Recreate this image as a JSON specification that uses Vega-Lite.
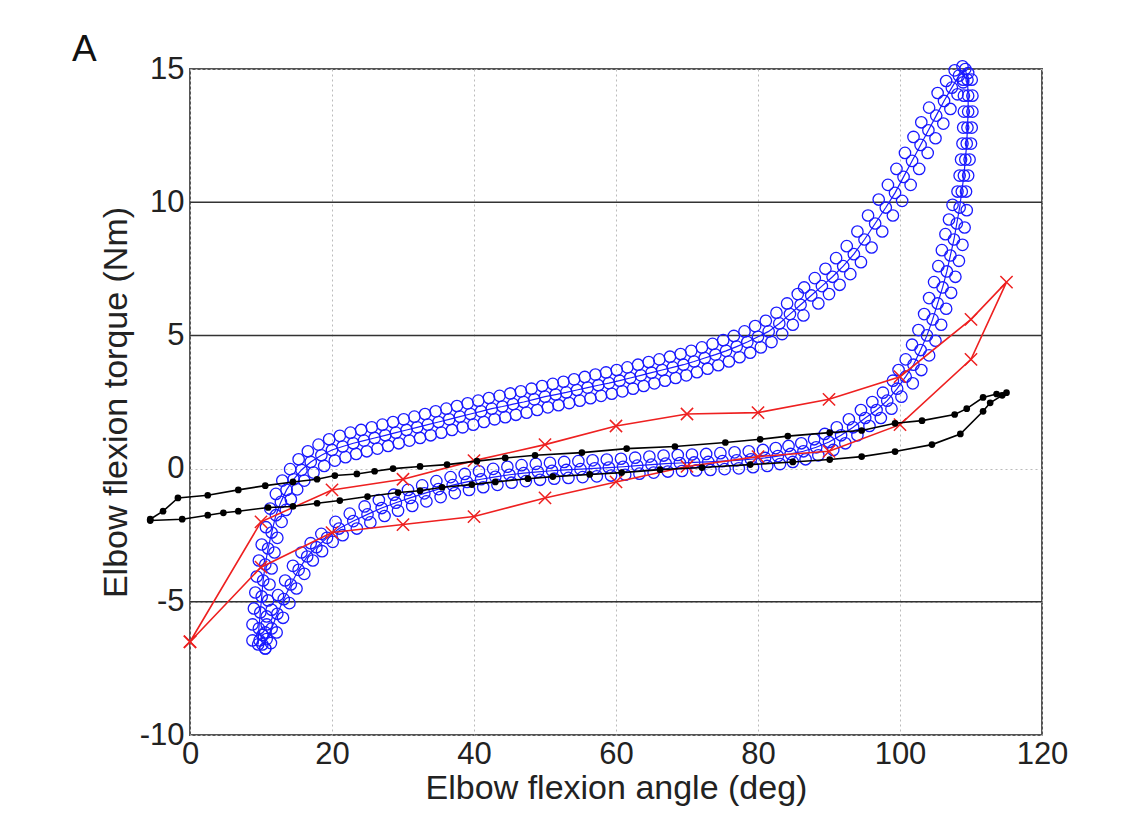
{
"$schema":"https://vega.github.io/schema/vega-lite/v6.json",
"width":852,"height":666,
"autosize":{"type":"none"},
"padding":{"left":190,"top":69,"right":96,"bottom":98},
"background":"white",
"title":{"text":"A","anchor":"start","frame":"group","dx":-118,"dy":53,"offset":0,"baseline":"bottom","fontSize":37,"font":"Liberation Sans","fontWeight":"normal","color":"#111"},
"datasets":{
"hl":[{"x":0,"x2":120,"y":-5},{"x":0,"x2":120,"y":5},{"x":0,"x2":120,"y":10}],
"blue":[
{"c":"A","i":1,"x":8.8,"y":-6.45},{"c":"A","i":2,"x":8.8,"y":-5.85},{"c":"A","i":3,"x":9.0,"y":-5.25},{"c":"A","i":4,"x":9.2,"y":-4.65},{"c":"A","i":5,"x":9.4,"y":-4.05},{"c":"A","i":6,"x":9.7,"y":-3.45},{"c":"A","i":7,"x":10.1,"y":-2.85},{"c":"A","i":8,"x":10.7,"y":-2.2},{"c":"A","i":9,"x":11.3,"y":-1.5},{"c":"A","i":10,"x":12.1,"y":-0.95},
{"c":"A","i":11,"x":13.0,"y":-0.45},{"c":"A","i":12,"x":14.1,"y":-0.02},{"c":"A","i":13,"x":15.3,"y":0.35},{"c":"A","i":14,"x":16.6,"y":0.65},{"c":"A","i":15,"x":18.1,"y":0.9},{"c":"A","i":16,"x":19.6,"y":1.1},{"c":"A","i":17,"x":21.1,"y":1.23},{"c":"A","i":18,"x":22.6,"y":1.35},{"c":"A","i":19,"x":24.1,"y":1.45},{"c":"A","i":20,"x":25.6,"y":1.55},
{"c":"A","i":21,"x":27.1,"y":1.65},{"c":"A","i":22,"x":28.6,"y":1.75},{"c":"A","i":23,"x":30.1,"y":1.85},{"c":"A","i":24,"x":31.6,"y":1.95},{"c":"A","i":25,"x":33.1,"y":2.05},{"c":"A","i":26,"x":34.6,"y":2.15},{"c":"A","i":27,"x":36.1,"y":2.25},{"c":"A","i":28,"x":37.6,"y":2.35},{"c":"A","i":29,"x":39.1,"y":2.45},{"c":"A","i":30,"x":40.6,"y":2.55},
{"c":"A","i":31,"x":42.1,"y":2.65},{"c":"A","i":32,"x":43.6,"y":2.73},{"c":"A","i":33,"x":45.1,"y":2.82},{"c":"A","i":34,"x":46.6,"y":2.9},{"c":"A","i":35,"x":48.1,"y":3.0},{"c":"A","i":36,"x":49.6,"y":3.1},{"c":"A","i":37,"x":51.1,"y":3.18},{"c":"A","i":38,"x":52.6,"y":3.26},{"c":"A","i":39,"x":54.1,"y":3.35},{"c":"A","i":40,"x":55.6,"y":3.44},
{"c":"A","i":41,"x":57.1,"y":3.53},{"c":"A","i":42,"x":58.6,"y":3.61},{"c":"A","i":43,"x":60.1,"y":3.7},{"c":"A","i":44,"x":61.6,"y":3.8},{"c":"A","i":45,"x":63.1,"y":3.9},{"c":"A","i":46,"x":64.6,"y":4.0},{"c":"A","i":47,"x":66.1,"y":4.1},{"c":"A","i":48,"x":67.6,"y":4.2},{"c":"A","i":49,"x":69.1,"y":4.3},{"c":"A","i":50,"x":70.6,"y":4.42},
{"c":"A","i":51,"x":72.1,"y":4.55},{"c":"A","i":52,"x":73.6,"y":4.68},{"c":"A","i":53,"x":75.1,"y":4.82},{"c":"A","i":54,"x":76.6,"y":4.98},{"c":"A","i":55,"x":78.1,"y":5.15},{"c":"A","i":56,"x":79.6,"y":5.35},{"c":"A","i":57,"x":81.1,"y":5.55},{"c":"A","i":58,"x":82.6,"y":5.85},{"c":"A","i":59,"x":84.1,"y":6.2},{"c":"A","i":60,"x":85.6,"y":6.55},
{"c":"A","i":61,"x":86.5,"y":6.8},{"c":"A","i":62,"x":88.0,"y":7.15},{"c":"A","i":63,"x":89.5,"y":7.5},{"c":"A","i":64,"x":91.0,"y":7.9},{"c":"A","i":65,"x":92.5,"y":8.35},{"c":"A","i":66,"x":94.0,"y":8.9},{"c":"A","i":67,"x":95.5,"y":9.5},{"c":"A","i":68,"x":97.0,"y":10.1},{"c":"A","i":69,"x":98.3,"y":10.65},{"c":"A","i":70,"x":99.5,"y":11.25},
{"c":"A","i":71,"x":100.7,"y":11.85},{"c":"A","i":72,"x":101.9,"y":12.45},{"c":"A","i":73,"x":103.0,"y":13.0},{"c":"A","i":74,"x":104.1,"y":13.55},{"c":"A","i":75,"x":105.3,"y":14.1},{"c":"A","i":76,"x":106.5,"y":14.55},{"c":"A","i":77,"x":107.7,"y":14.95},{"c":"A","i":78,"x":108.8,"y":15.1},
{"c":"A","i":79,"x":110.1,"y":14.6},{"c":"A","i":80,"x":110.2,"y":14.0},{"c":"A","i":81,"x":110.2,"y":13.4},{"c":"A","i":82,"x":110.1,"y":12.8},{"c":"A","i":83,"x":110.0,"y":12.2},{"c":"A","i":84,"x":109.8,"y":11.6},{"c":"A","i":85,"x":109.6,"y":11.0},{"c":"A","i":86,"x":109.3,"y":10.4},{"c":"A","i":87,"x":109.4,"y":9.7},{"c":"A","i":88,"x":109.1,"y":9.05},
{"c":"A","i":89,"x":108.8,"y":8.4},{"c":"A","i":90,"x":108.3,"y":7.8},{"c":"A","i":91,"x":107.8,"y":7.2},{"c":"A","i":92,"x":107.2,"y":6.6},{"c":"A","i":93,"x":106.5,"y":6.0},{"c":"A","i":94,"x":105.8,"y":5.4},{"c":"A","i":95,"x":105.0,"y":4.8},{"c":"A","i":96,"x":104.1,"y":4.25},{"c":"A","i":97,"x":103.0,"y":3.7},{"c":"A","i":98,"x":101.8,"y":3.2},
{"c":"A","i":99,"x":100.2,"y":2.7},{"c":"A","i":100,"x":98.8,"y":2.25},{"c":"A","i":101,"x":97.3,"y":1.9},{"c":"A","i":102,"x":95.7,"y":1.6},{"c":"A","i":103,"x":94.0,"y":1.25},{"c":"A","i":104,"x":92.3,"y":0.95},{"c":"A","i":105,"x":90.6,"y":0.7},{"c":"A","i":106,"x":88.5,"y":0.5},{"c":"A","i":107,"x":86.7,"y":0.35},{"c":"A","i":108,"x":84.9,"y":0.25},
{"c":"A","i":109,"x":83.1,"y":0.17},{"c":"A","i":110,"x":81.3,"y":0.1},{"c":"A","i":111,"x":79.3,"y":0.05},{"c":"A","i":112,"x":77.3,"y":0.01},{"c":"A","i":113,"x":75.3,"y":-0.02},{"c":"A","i":114,"x":73.3,"y":-0.05},{"c":"A","i":115,"x":71.3,"y":-0.07},{"c":"A","i":116,"x":69.3,"y":-0.09},{"c":"A","i":117,"x":67.3,"y":-0.11},{"c":"A","i":118,"x":65.3,"y":-0.15},
{"c":"A","i":119,"x":63.3,"y":-0.19},{"c":"A","i":120,"x":61.3,"y":-0.23},{"c":"A","i":121,"x":59.3,"y":-0.26},{"c":"A","i":122,"x":57.3,"y":-0.29},{"c":"A","i":123,"x":55.3,"y":-0.32},{"c":"A","i":124,"x":53.3,"y":-0.35},{"c":"A","i":125,"x":51.3,"y":-0.38},{"c":"A","i":126,"x":49.3,"y":-0.42},{"c":"A","i":127,"x":47.3,"y":-0.47},{"c":"A","i":128,"x":45.3,"y":-0.53},
{"c":"A","i":129,"x":43.3,"y":-0.61},{"c":"A","i":130,"x":41.3,"y":-0.7},{"c":"A","i":131,"x":39.3,"y":-0.8},{"c":"A","i":132,"x":37.3,"y":-0.92},{"c":"A","i":133,"x":35.3,"y":-1.07},{"c":"A","i":134,"x":33.3,"y":-1.23},{"c":"A","i":135,"x":31.3,"y":-1.4},{"c":"A","i":136,"x":29.3,"y":-1.58},{"c":"A","i":137,"x":27.4,"y":-1.78},{"c":"A","i":138,"x":25.4,"y":-2.02},
{"c":"A","i":139,"x":23.5,"y":-2.25},{"c":"A","i":140,"x":21.5,"y":-2.5},{"c":"A","i":141,"x":20.1,"y":-2.75},{"c":"A","i":142,"x":18.6,"y":-3.1},{"c":"A","i":143,"x":17.3,"y":-3.45},{"c":"A","i":144,"x":16.1,"y":-3.95},{"c":"A","i":145,"x":15.0,"y":-4.5},{"c":"A","i":146,"x":14.0,"y":-5.05},{"c":"A","i":147,"x":13.1,"y":-5.6},{"c":"A","i":148,"x":12.2,"y":-6.15},
{"c":"A","i":149,"x":11.4,"y":-6.55},{"c":"A","i":150,"x":10.6,"y":-6.75},
{"c":"B","i":1,"x":10.6,"y":-6.75},{"c":"B","i":2,"x":10.6,"y":-6.15},{"c":"B","i":3,"x":10.8,"y":-5.55},{"c":"B","i":4,"x":11.0,"y":-4.95},{"c":"B","i":5,"x":11.2,"y":-4.35},{"c":"B","i":6,"x":11.5,"y":-3.75},{"c":"B","i":7,"x":11.9,"y":-3.15},{"c":"B","i":8,"x":12.3,"y":-2.6},{"c":"B","i":9,"x":12.9,"y":-2.0},{"c":"B","i":10,"x":13.5,"y":-1.55},
{"c":"B","i":11,"x":14.2,"y":-1.15},{"c":"B","i":12,"x":15.1,"y":-0.78},{"c":"B","i":13,"x":16.1,"y":-0.45},{"c":"B","i":14,"x":17.4,"y":-0.15},{"c":"B","i":15,"x":18.9,"y":0.1},{"c":"B","i":16,"x":20.4,"y":0.3},{"c":"B","i":17,"x":21.9,"y":0.43},{"c":"B","i":18,"x":23.4,"y":0.55},{"c":"B","i":19,"x":24.9,"y":0.65},{"c":"B","i":20,"x":26.4,"y":0.75},
{"c":"B","i":21,"x":27.9,"y":0.85},{"c":"B","i":22,"x":29.4,"y":0.95},{"c":"B","i":23,"x":30.9,"y":1.05},{"c":"B","i":24,"x":32.4,"y":1.15},{"c":"B","i":25,"x":33.9,"y":1.25},{"c":"B","i":26,"x":35.4,"y":1.35},{"c":"B","i":27,"x":36.9,"y":1.45},{"c":"B","i":28,"x":38.4,"y":1.55},{"c":"B","i":29,"x":39.9,"y":1.65},{"c":"B","i":30,"x":41.4,"y":1.75},
{"c":"B","i":31,"x":42.9,"y":1.85},{"c":"B","i":32,"x":44.4,"y":1.93},{"c":"B","i":33,"x":45.9,"y":2.02},{"c":"B","i":34,"x":47.4,"y":2.1},{"c":"B","i":35,"x":48.9,"y":2.2},{"c":"B","i":36,"x":50.4,"y":2.3},{"c":"B","i":37,"x":51.9,"y":2.38},{"c":"B","i":38,"x":53.4,"y":2.46},{"c":"B","i":39,"x":54.9,"y":2.55},{"c":"B","i":40,"x":56.4,"y":2.64},
{"c":"B","i":41,"x":57.9,"y":2.73},{"c":"B","i":42,"x":59.4,"y":2.81},{"c":"B","i":43,"x":60.9,"y":2.9},{"c":"B","i":44,"x":62.4,"y":3.0},{"c":"B","i":45,"x":63.9,"y":3.1},{"c":"B","i":46,"x":65.4,"y":3.2},{"c":"B","i":47,"x":66.9,"y":3.3},{"c":"B","i":48,"x":68.4,"y":3.4},{"c":"B","i":49,"x":69.9,"y":3.5},{"c":"B","i":50,"x":71.4,"y":3.62},
{"c":"B","i":51,"x":72.9,"y":3.75},{"c":"B","i":52,"x":74.4,"y":3.88},{"c":"B","i":53,"x":75.9,"y":4.02},{"c":"B","i":54,"x":77.4,"y":4.18},{"c":"B","i":55,"x":78.9,"y":4.35},{"c":"B","i":56,"x":80.4,"y":4.55},{"c":"B","i":57,"x":81.9,"y":4.75},{"c":"B","i":58,"x":83.4,"y":5.05},{"c":"B","i":59,"x":84.9,"y":5.4},{"c":"B","i":60,"x":86.4,"y":5.75},
{"c":"B","i":61,"x":88.5,"y":6.2},{"c":"B","i":62,"x":90.0,"y":6.55},{"c":"B","i":63,"x":91.5,"y":6.9},{"c":"B","i":64,"x":93.0,"y":7.3},{"c":"B","i":65,"x":94.5,"y":7.75},{"c":"B","i":66,"x":96.0,"y":8.3},{"c":"B","i":67,"x":97.5,"y":8.9},{"c":"B","i":68,"x":99.0,"y":9.5},{"c":"B","i":69,"x":100.3,"y":10.05},{"c":"B","i":70,"x":101.5,"y":10.65},
{"c":"B","i":71,"x":102.7,"y":11.25},{"c":"B","i":72,"x":103.9,"y":11.85},{"c":"B","i":73,"x":105.0,"y":12.4},{"c":"B","i":74,"x":106.1,"y":12.95},{"c":"B","i":75,"x":107.1,"y":13.5},{"c":"B","i":76,"x":108.1,"y":14.05},{"c":"B","i":77,"x":108.9,"y":14.5},{"c":"B","i":78,"x":109.6,"y":14.85},
{"c":"B","i":79,"x":108.9,"y":14.6},{"c":"B","i":80,"x":109.0,"y":14.0},{"c":"B","i":81,"x":109.0,"y":13.4},{"c":"B","i":82,"x":108.9,"y":12.8},{"c":"B","i":83,"x":108.8,"y":12.2},{"c":"B","i":84,"x":108.6,"y":11.6},{"c":"B","i":85,"x":108.4,"y":11.0},{"c":"B","i":86,"x":108.1,"y":10.4},{"c":"B","i":87,"x":107.4,"y":9.9},{"c":"B","i":88,"x":106.9,"y":9.35},
{"c":"B","i":89,"x":106.4,"y":8.8},{"c":"B","i":90,"x":105.9,"y":8.2},{"c":"B","i":91,"x":105.4,"y":7.6},{"c":"B","i":92,"x":104.8,"y":7.0},{"c":"B","i":93,"x":104.1,"y":6.4},{"c":"B","i":94,"x":103.4,"y":5.8},{"c":"B","i":95,"x":102.6,"y":5.2},{"c":"B","i":96,"x":101.7,"y":4.65},{"c":"B","i":97,"x":100.8,"y":4.1},{"c":"B","i":98,"x":99.8,"y":3.7},
{"c":"B","i":99,"x":99.0,"y":3.3},{"c":"B","i":100,"x":97.6,"y":2.85},{"c":"B","i":101,"x":96.1,"y":2.5},{"c":"B","i":102,"x":94.5,"y":2.2},{"c":"B","i":103,"x":92.8,"y":1.85},{"c":"B","i":104,"x":91.1,"y":1.55},{"c":"B","i":105,"x":89.4,"y":1.3},{"c":"B","i":106,"x":87.9,"y":1.1},{"c":"B","i":107,"x":86.1,"y":0.95},{"c":"B","i":108,"x":84.3,"y":0.85},
{"c":"B","i":109,"x":82.5,"y":0.77},{"c":"B","i":110,"x":80.7,"y":0.7},{"c":"B","i":111,"x":78.7,"y":0.65},{"c":"B","i":112,"x":76.7,"y":0.61},{"c":"B","i":113,"x":74.7,"y":0.58},{"c":"B","i":114,"x":72.7,"y":0.55},{"c":"B","i":115,"x":70.7,"y":0.53},{"c":"B","i":116,"x":68.7,"y":0.51},{"c":"B","i":117,"x":66.7,"y":0.49},{"c":"B","i":118,"x":64.7,"y":0.45},
{"c":"B","i":119,"x":62.7,"y":0.41},{"c":"B","i":120,"x":60.7,"y":0.37},{"c":"B","i":121,"x":58.7,"y":0.34},{"c":"B","i":122,"x":56.7,"y":0.31},{"c":"B","i":123,"x":54.7,"y":0.28},{"c":"B","i":124,"x":52.7,"y":0.25},{"c":"B","i":125,"x":50.7,"y":0.22},{"c":"B","i":126,"x":48.7,"y":0.18},{"c":"B","i":127,"x":46.7,"y":0.13},{"c":"B","i":128,"x":44.7,"y":0.07},
{"c":"B","i":129,"x":42.7,"y":-0.01},{"c":"B","i":130,"x":40.7,"y":-0.1},{"c":"B","i":131,"x":38.7,"y":-0.2},{"c":"B","i":132,"x":36.7,"y":-0.32},{"c":"B","i":133,"x":34.7,"y":-0.47},{"c":"B","i":134,"x":32.7,"y":-0.63},{"c":"B","i":135,"x":30.7,"y":-0.8},{"c":"B","i":136,"x":28.7,"y":-0.98},{"c":"B","i":137,"x":26.6,"y":-1.18},{"c":"B","i":138,"x":24.6,"y":-1.42},
{"c":"B","i":139,"x":22.5,"y":-1.69},{"c":"B","i":140,"x":20.5,"y":-2.0},{"c":"B","i":141,"x":18.5,"y":-2.45},{"c":"B","i":142,"x":17.0,"y":-2.8},{"c":"B","i":143,"x":15.7,"y":-3.15},{"c":"B","i":144,"x":14.5,"y":-3.65},{"c":"B","i":145,"x":13.4,"y":-4.2},{"c":"B","i":146,"x":12.4,"y":-4.75},{"c":"B","i":147,"x":11.5,"y":-5.3},{"c":"B","i":148,"x":10.8,"y":-5.85},
{"c":"B","i":149,"x":10.2,"y":-6.25},{"c":"B","i":150,"x":9.8,"y":-6.45},
{"c":"C","i":1,"x":9.6,"y":-6.6},{"c":"C","i":2,"x":9.7,"y":-6.0},{"c":"C","i":3,"x":9.9,"y":-5.4},{"c":"C","i":4,"x":10.1,"y":-4.8},{"c":"C","i":5,"x":10.3,"y":-4.2},{"c":"C","i":6,"x":10.6,"y":-3.6},{"c":"C","i":7,"x":11.0,"y":-3.0},{"c":"C","i":8,"x":11.5,"y":-2.4},{"c":"C","i":9,"x":12.1,"y":-1.75},{"c":"C","i":10,"x":12.8,"y":-1.25},
{"c":"C","i":11,"x":13.6,"y":-0.8},{"c":"C","i":12,"x":14.6,"y":-0.4},{"c":"C","i":13,"x":15.7,"y":-0.05},{"c":"C","i":14,"x":17.0,"y":0.25},{"c":"C","i":15,"x":18.5,"y":0.5},{"c":"C","i":16,"x":20.0,"y":0.7},{"c":"C","i":17,"x":21.5,"y":0.83},{"c":"C","i":18,"x":23.0,"y":0.95},{"c":"C","i":19,"x":24.5,"y":1.05},{"c":"C","i":20,"x":26.0,"y":1.15},
{"c":"C","i":21,"x":27.5,"y":1.25},{"c":"C","i":22,"x":29.0,"y":1.35},{"c":"C","i":23,"x":30.5,"y":1.45},{"c":"C","i":24,"x":32.0,"y":1.55},{"c":"C","i":25,"x":33.5,"y":1.65},{"c":"C","i":26,"x":35.0,"y":1.75},{"c":"C","i":27,"x":36.5,"y":1.85},{"c":"C","i":28,"x":38.0,"y":1.95},{"c":"C","i":29,"x":39.5,"y":2.05},{"c":"C","i":30,"x":41.0,"y":2.15},
{"c":"C","i":31,"x":42.5,"y":2.25},{"c":"C","i":32,"x":44.0,"y":2.33},{"c":"C","i":33,"x":45.5,"y":2.42},{"c":"C","i":34,"x":47.0,"y":2.5},{"c":"C","i":35,"x":48.5,"y":2.6},{"c":"C","i":36,"x":50.0,"y":2.7},{"c":"C","i":37,"x":51.5,"y":2.78},{"c":"C","i":38,"x":53.0,"y":2.86},{"c":"C","i":39,"x":54.5,"y":2.95},{"c":"C","i":40,"x":56.0,"y":3.04},
{"c":"C","i":41,"x":57.5,"y":3.13},{"c":"C","i":42,"x":59.0,"y":3.21},{"c":"C","i":43,"x":60.5,"y":3.3},{"c":"C","i":44,"x":62.0,"y":3.4},{"c":"C","i":45,"x":63.5,"y":3.5},{"c":"C","i":46,"x":65.0,"y":3.6},{"c":"C","i":47,"x":66.5,"y":3.7},{"c":"C","i":48,"x":68.0,"y":3.8},{"c":"C","i":49,"x":69.5,"y":3.9},{"c":"C","i":50,"x":71.0,"y":4.02},
{"c":"C","i":51,"x":72.5,"y":4.15},{"c":"C","i":52,"x":74.0,"y":4.28},{"c":"C","i":53,"x":75.5,"y":4.42},{"c":"C","i":54,"x":77.0,"y":4.58},{"c":"C","i":55,"x":78.5,"y":4.75},{"c":"C","i":56,"x":80.0,"y":4.95},{"c":"C","i":57,"x":81.5,"y":5.15},{"c":"C","i":58,"x":83.0,"y":5.45},{"c":"C","i":59,"x":84.5,"y":5.8},{"c":"C","i":60,"x":86.0,"y":6.15},
{"c":"C","i":61,"x":87.5,"y":6.5},{"c":"C","i":62,"x":89.0,"y":6.85},{"c":"C","i":63,"x":90.5,"y":7.2},{"c":"C","i":64,"x":92.0,"y":7.6},{"c":"C","i":65,"x":93.5,"y":8.05},{"c":"C","i":66,"x":95.0,"y":8.6},{"c":"C","i":67,"x":96.5,"y":9.2},{"c":"C","i":68,"x":98.0,"y":9.8},{"c":"C","i":69,"x":99.3,"y":10.35},{"c":"C","i":70,"x":100.5,"y":10.95},
{"c":"C","i":71,"x":101.7,"y":11.55},{"c":"C","i":72,"x":102.9,"y":12.15},{"c":"C","i":73,"x":104.0,"y":12.7},{"c":"C","i":74,"x":105.1,"y":13.25},{"c":"C","i":75,"x":106.2,"y":13.8},{"c":"C","i":76,"x":107.3,"y":14.3},{"c":"C","i":77,"x":108.3,"y":14.75},{"c":"C","i":78,"x":109.2,"y":15.0},
{"c":"C","i":79,"x":109.5,"y":14.6},{"c":"C","i":80,"x":109.6,"y":14.0},{"c":"C","i":81,"x":109.6,"y":13.4},{"c":"C","i":82,"x":109.5,"y":12.8},{"c":"C","i":83,"x":109.4,"y":12.2},{"c":"C","i":84,"x":109.2,"y":11.6},{"c":"C","i":85,"x":109.0,"y":11.0},{"c":"C","i":86,"x":108.7,"y":10.4},{"c":"C","i":87,"x":108.4,"y":9.8},{"c":"C","i":88,"x":108.0,"y":9.2},
{"c":"C","i":89,"x":107.6,"y":8.6},{"c":"C","i":90,"x":107.1,"y":8.0},{"c":"C","i":91,"x":106.6,"y":7.4},{"c":"C","i":92,"x":106.0,"y":6.8},{"c":"C","i":93,"x":105.3,"y":6.2},{"c":"C","i":94,"x":104.6,"y":5.6},{"c":"C","i":95,"x":103.8,"y":5.0},{"c":"C","i":96,"x":102.9,"y":4.45},{"c":"C","i":97,"x":101.9,"y":3.9},{"c":"C","i":98,"x":100.8,"y":3.45},
{"c":"C","i":99,"x":99.6,"y":3.0},{"c":"C","i":100,"x":98.2,"y":2.55},{"c":"C","i":101,"x":96.7,"y":2.2},{"c":"C","i":102,"x":95.1,"y":1.9},{"c":"C","i":103,"x":93.4,"y":1.55},{"c":"C","i":104,"x":91.7,"y":1.25},{"c":"C","i":105,"x":90.0,"y":1.0},{"c":"C","i":106,"x":88.2,"y":0.8},{"c":"C","i":107,"x":86.4,"y":0.65},{"c":"C","i":108,"x":84.6,"y":0.55},
{"c":"C","i":109,"x":82.8,"y":0.47},{"c":"C","i":110,"x":81.0,"y":0.4},{"c":"C","i":111,"x":79.0,"y":0.35},{"c":"C","i":112,"x":77.0,"y":0.31},{"c":"C","i":113,"x":75.0,"y":0.28},{"c":"C","i":114,"x":73.0,"y":0.25},{"c":"C","i":115,"x":71.0,"y":0.23},{"c":"C","i":116,"x":69.0,"y":0.21},{"c":"C","i":117,"x":67.0,"y":0.19},{"c":"C","i":118,"x":65.0,"y":0.15},
{"c":"C","i":119,"x":63.0,"y":0.11},{"c":"C","i":120,"x":61.0,"y":0.07},{"c":"C","i":121,"x":59.0,"y":0.04},{"c":"C","i":122,"x":57.0,"y":0.01},{"c":"C","i":123,"x":55.0,"y":-0.02},{"c":"C","i":124,"x":53.0,"y":-0.05},{"c":"C","i":125,"x":51.0,"y":-0.08},{"c":"C","i":126,"x":49.0,"y":-0.12},{"c":"C","i":127,"x":47.0,"y":-0.17},{"c":"C","i":128,"x":45.0,"y":-0.23},
{"c":"C","i":129,"x":43.0,"y":-0.31},{"c":"C","i":130,"x":41.0,"y":-0.4},{"c":"C","i":131,"x":39.0,"y":-0.5},{"c":"C","i":132,"x":37.0,"y":-0.62},{"c":"C","i":133,"x":35.0,"y":-0.77},{"c":"C","i":134,"x":33.0,"y":-0.93},{"c":"C","i":135,"x":31.0,"y":-1.1},{"c":"C","i":136,"x":29.0,"y":-1.28},{"c":"C","i":137,"x":27.0,"y":-1.48},{"c":"C","i":138,"x":25.0,"y":-1.72},
{"c":"C","i":139,"x":23.0,"y":-1.97},{"c":"C","i":140,"x":21.0,"y":-2.25},{"c":"C","i":141,"x":19.3,"y":-2.6},{"c":"C","i":142,"x":17.8,"y":-2.95},{"c":"C","i":143,"x":16.5,"y":-3.3},{"c":"C","i":144,"x":15.3,"y":-3.8},{"c":"C","i":145,"x":14.2,"y":-4.35},{"c":"C","i":146,"x":13.2,"y":-4.9},{"c":"C","i":147,"x":12.3,"y":-5.45},{"c":"C","i":148,"x":11.5,"y":-6.0},
{"c":"C","i":149,"x":10.8,"y":-6.4},{"c":"C","i":150,"x":10.2,"y":-6.6}
],
"red":[
{"i":1,"x":0,"y":-6.5},{"i":2,"x":10,"y":-2.0},{"i":3,"x":20,"y":-0.8},{"i":4,"x":30,"y":-0.4},{"i":5,"x":40,"y":0.3},{"i":6,"x":50,"y":0.9},{"i":7,"x":60,"y":1.6},{"i":8,"x":70,"y":2.05},{"i":9,"x":80,"y":2.1},{"i":10,"x":90,"y":2.6},{"i":11,"x":100,"y":3.45},{"i":12,"x":110,"y":5.6},{"i":13,"x":115,"y":7.0},
{"i":14,"x":110,"y":4.1},{"i":15,"x":100,"y":1.65},{"i":16,"x":90,"y":0.65},{"i":17,"x":80,"y":0.45},{"i":18,"x":70,"y":0.08},{"i":19,"x":60,"y":-0.5},{"i":20,"x":50,"y":-1.1},{"i":21,"x":40,"y":-1.8},{"i":22,"x":30,"y":-2.1},{"i":23,"x":20,"y":-2.4},{"i":24,"x":10,"y":-3.7},{"i":25,"x":0,"y":-6.5}
],
"black":[
{"i":1,"x":-5.6,"y":-1.9},{"i":2,"x":-3.8,"y":-1.6},{"i":3,"x":-1.7,"y":-1.1},{"i":4,"x":2.5,"y":-1.0},{"i":5,"x":6.8,"y":-0.8},{"i":6,"x":10.6,"y":-0.64},{"i":7,"x":14.5,"y":-0.5},{"i":8,"x":17.9,"y":-0.4},{"i":9,"x":20.4,"y":-0.26},{"i":10,"x":23.5,"y":-0.2},
{"i":11,"x":26,"y":-0.1},{"i":12,"x":28.6,"y":0.0},{"i":13,"x":32.4,"y":0.08},{"i":14,"x":36.2,"y":0.15},{"i":15,"x":40.4,"y":0.28},{"i":16,"x":44.4,"y":0.4},{"i":17,"x":48.6,"y":0.5},{"i":18,"x":55.2,"y":0.6},{"i":19,"x":61.5,"y":0.75},{"i":20,"x":68.3,"y":0.83},
{"i":21,"x":75.4,"y":0.98},{"i":22,"x":80.3,"y":1.1},{"i":23,"x":84.2,"y":1.22},{"i":24,"x":90.1,"y":1.35},{"i":25,"x":94.6,"y":1.43},{"i":26,"x":99.3,"y":1.7},{"i":27,"x":103.1,"y":1.8},{"i":28,"x":107.7,"y":2.03},{"i":29,"x":109.4,"y":2.25},{"i":30,"x":111.7,"y":2.67},
{"i":31,"x":113.6,"y":2.8},{"i":32,"x":115,"y":2.85},{"i":33,"x":114.4,"y":2.75},{"i":34,"x":112.7,"y":2.47},{"i":35,"x":111.7,"y":2.15},{"i":36,"x":108.5,"y":1.3},{"i":37,"x":104.5,"y":0.9},{"i":38,"x":99.3,"y":0.64},{"i":39,"x":94.6,"y":0.45},{"i":40,"x":90.1,"y":0.34},
{"i":41,"x":84.9,"y":0.25},{"i":42,"x":78.9,"y":0.15},{"i":43,"x":72.1,"y":0.04},{"i":44,"x":66.2,"y":-0.04},{"i":45,"x":60.8,"y":-0.15},{"i":46,"x":56.3,"y":-0.22},{"i":47,"x":51.1,"y":-0.3},{"i":48,"x":47.6,"y":-0.38},{"i":49,"x":43,"y":-0.5},{"i":50,"x":39.7,"y":-0.6},
{"i":51,"x":35.5,"y":-0.7},{"i":52,"x":32.4,"y":-0.83},{"i":53,"x":29.3,"y":-0.9},{"i":54,"x":25,"y":-1.05},{"i":55,"x":21.1,"y":-1.2},{"i":56,"x":17.9,"y":-1.3},{"i":57,"x":14.5,"y":-1.42},{"i":58,"x":11,"y":-1.46},{"i":59,"x":6.8,"y":-1.6},{"i":60,"x":4.7,"y":-1.66},
{"i":61,"x":2.5,"y":-1.75},{"i":62,"x":-1.1,"y":-1.9},{"i":63,"x":-5.6,"y":-1.95}
]
},
"encoding":{
"x":{"field":"x","type":"quantitative","scale":{"domain":[0,120],"nice":false,"zero":false},
"axis":{"title":"Elbow flexion angle (deg)","values":[0,20,40,60,80,100,120],"labelPadding":4,"titlePadding":2,"labelFlush":false}},
"y":{"field":"y","type":"quantitative","scale":{"domain":[-10,15],"nice":false,"zero":false},
"axis":{"title":"Elbow flexion torque (Nm)","values":[-10,-5,0,5,10,15],"labelPadding":6,"titlePadding":6,"labelFlush":false,"labelExpr":"toString(datum.value)"}}
},
"layer":[
{"data":{"name":"hl"},"mark":{"type":"rule","color":"#333333","strokeWidth":1.5},"encoding":{"x2":{"field":"x2"}}},
{"data":{"name":"blue"},"transform":[{"filter":"datum.c == 'C'"}],"mark":{"type":"line","color":"#1a1aff","strokeWidth":1.2,"clip":false},"encoding":{"order":{"field":"i","type":"quantitative"}}},
{"data":{"name":"blue"},"mark":{"type":"point","shape":"circle","filled":false,"color":"#1a1aff","size":130,"strokeWidth":1.3,"opacity":1,"clip":false}},
{"data":{"name":"red"},"mark":{"type":"line","color":"#ee2020","strokeWidth":1.6,"clip":false},"encoding":{"order":{"field":"i","type":"quantitative"}}},
{"data":{"name":"red"},"mark":{"type":"point","shape":"M-1,-1L1,1M-1,1L1,-1","filled":false,"color":"#ee2020","size":150,"strokeWidth":1.5,"opacity":1,"clip":false}},
{"data":{"name":"black"},"mark":{"type":"line","color":"#000000","strokeWidth":1.6,"clip":false},"encoding":{"order":{"field":"i","type":"quantitative"}}},
{"data":{"name":"black"},"mark":{"type":"point","shape":"circle","filled":true,"color":"#000000","size":45,"opacity":1,"clip":false}}
],
"config":{
"view":{"stroke":"#555555","strokeWidth":2},
"axis":{"labelFont":"Liberation Sans","titleFont":"Liberation Sans","labelFontSize":31,"titleFontSize":34,"titleFontWeight":"normal","labelColor":"#222222","titleColor":"#222222","grid":true,"gridColor":"#bbbbbb","gridDash":[2,3],"gridWidth":1,"ticks":false,"domain":false}
}
}
